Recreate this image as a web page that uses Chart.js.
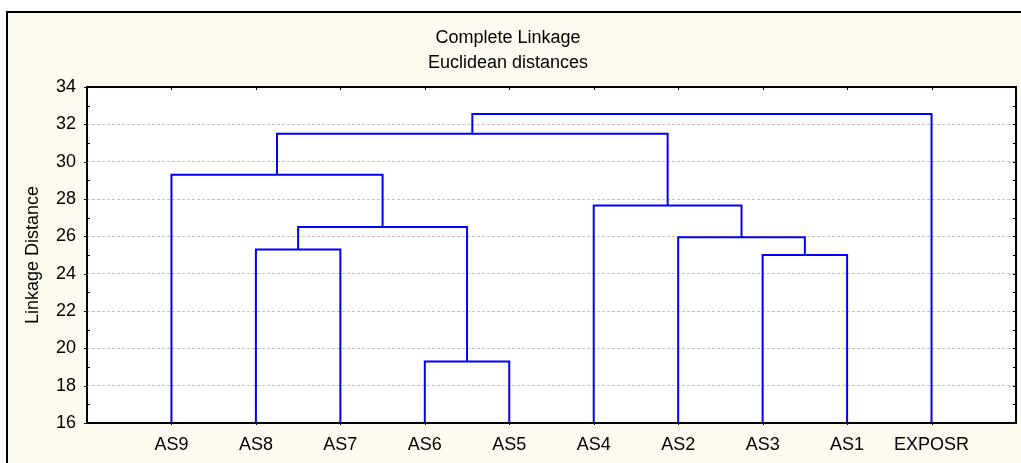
<!DOCTYPE html>
<html>
<head>
<meta charset="utf-8">
<title>Complete Linkage dendrogram</title>
<script src="https://cdn.jsdelivr.net/npm/chart.js@4/dist/chart.umd.min.js"></script>
<style>
  html, body { margin: 0; padding: 0; background: #ffffff; }
  #wrap { width: 1021px; height: 463px; position: relative; }
</style>
</head>
<body>
<div id="wrap"><canvas id="c" width="1021" height="463"></canvas></div>
<script>
// Leaves in dendrogram order (left to right)
const leafLabels = ['AS9', 'AS8', 'AS7', 'AS6', 'AS5', 'AS4', 'AS2', 'AS3', 'AS1', 'EXPOSR'];

// Merge i joins node mergeLeft[i] with node mergeRight[i] at mergeHeight[i].
// Nodes 0..9 are the leaves; node 10 + i is the cluster created by merge i.
const mergeLeft   = [3, 7, 1, 6, 12, 5, 0, 16, 17];
const mergeRight  = [4, 8, 2, 11, 10, 13, 14, 15, 9];
const mergeHeight = [19.3, 25.0, 25.3, 25.95, 26.5, 27.65, 29.3, 31.5, 32.55];

// Linkage distance axis
const yTickValues = [16, 18, 20, 22, 24, 26, 28, 30, 32, 34];
const yMin = 16, yMax = 34;

const FONT = "'Liberation Sans', Arial, Helvetica, sans-serif";
const FONT_SIZE = 18;
const CREAM = '#fefaf0';
const LINK_BLUE = '#0000ff';

// Node positions: leaves sit at 1..n on the x scale, clusters midway between children
const nodeX = leafLabels.map((_, i) => i + 1);
const nodeH = leafLabels.map(() => yMin);
mergeLeft.forEach((a, i) => {
  const b = mergeRight[i];
  nodeX.push((nodeX[a] + nodeX[b]) / 2);
  nodeH.push(mergeHeight[i]);
});

// One U-shaped link per merge
const datasets = mergeLeft.map((a, i) => {
  const b = mergeRight[i];
  const h = mergeHeight[i];
  return {
    data: [
      { x: nodeX[a], y: nodeH[a] },
      { x: nodeX[a], y: h },
      { x: nodeX[b], y: h },
      { x: nodeX[b], y: nodeH[b] }
    ],
    borderColor: LINK_BLUE,
    borderWidth: 2,
    pointRadius: 0,
    tension: 0,
    fill: false,
    borderJoinStyle: 'miter',
    borderCapStyle: 'butt'
  };
});

// Cream panel with its frame, white plot area behind the links
const panelBackground = {
  id: 'panelBackground',
  beforeDraw(chart) {
    const { ctx, width, height, chartArea } = chart;
    ctx.save();
    ctx.fillStyle = '#ffffff';
    ctx.fillRect(0, 0, width, height);
    ctx.fillStyle = CREAM;
    ctx.fillRect(7, 12, width - 7, height - 12);
    ctx.strokeStyle = '#000000';
    ctx.lineWidth = 2;
    ctx.beginPath();
    ctx.moveTo(7, height);
    ctx.lineTo(7, 12);
    ctx.lineTo(width, 12);
    ctx.stroke();
    ctx.fillStyle = '#ffffff';
    ctx.fillRect(chartArea.left, chartArea.top, chartArea.right - chartArea.left, chartArea.bottom - chartArea.top);
    ctx.restore();
  }
};

// Plot frame with inner/outer tick marks on all four sides
const plotFrame = {
  id: 'plotFrame',
  afterDraw(chart) {
    const { ctx, chartArea: ca, scales } = chart;
    const xs = scales.x, ys = scales.y;
    ctx.save();
    ctx.strokeStyle = '#000000';
    ctx.lineWidth = 1;
    ctx.beginPath();
    // left axis: major ticks outward, minor ticks inward
    for (let v = yMin; v <= yMax; v++) {
      const py = Math.round(ys.getPixelForValue(v)) + 0.5;
      if (v % 2 === 0) {
        ctx.moveTo(ca.left - 3, py); ctx.lineTo(ca.left, py);
      } else {
        ctx.moveTo(ca.left, py); ctx.lineTo(ca.left + 3, py);
      }
      // right axis ticks point inward
      ctx.moveTo(ca.right - 3, py); ctx.lineTo(ca.right, py);
    }
    // top and bottom ticks at every leaf
    leafLabels.forEach((_, i) => {
      const px = Math.round(xs.getPixelForValue(i + 1)) + 0.5;
      ctx.moveTo(px, ca.top); ctx.lineTo(px, ca.top + 3);
      ctx.moveTo(px, ca.bottom); ctx.lineTo(px, ca.bottom + 2);
    });
    ctx.stroke();
    ctx.lineWidth = 2;
    ctx.strokeRect(ca.left, ca.top, ca.right - ca.left, ca.bottom - ca.top);
    ctx.restore();
  }
};

new Chart(document.getElementById('c'), {
  type: 'line',
  data: { datasets },
  options: {
    responsive: false,
    animation: false,
    devicePixelRatio: 1,
    parsing: false,
    layout: { padding: { left: 0, right: 5, top: 0, bottom: 0 } },
    plugins: {
      legend: { display: false },
      tooltip: { enabled: false },
      title: {
        display: true,
        text: ['Complete Linkage', 'Euclidean distances'],
        color: '#000000',
        font: { family: FONT, size: FONT_SIZE, weight: 'normal', lineHeight: 25 / FONT_SIZE },
        padding: { top: 26, bottom: 11 }
      }
    },
    scales: {
      x: {
        type: 'linear',
        position: 'bottom',
        min: 0,
        max: leafLabels.length + 1,
        afterBuildTicks(scale) {
          scale.ticks = leafLabels.map((_, i) => ({ value: i + 1 }));
        },
        ticks: {
          autoSkip: false,
          maxRotation: 0,
          padding: 11,
          color: '#000000',
          font: { family: FONT, size: FONT_SIZE },
          callback: (v) => leafLabels[v - 1]
        },
        grid: { display: false, drawTicks: false },
        border: { display: false },
        afterFit(scale) { scale.height = 40; }
      },
      y: {
        type: 'linear',
        position: 'left',
        min: yMin,
        max: yMax,
        afterBuildTicks(scale) {
          scale.ticks = yTickValues.map(v => ({ value: v }));
        },
        ticks: {
          padding: 11,
          color: '#000000',
          font: { family: FONT, size: FONT_SIZE }
        },
        grid: {
          drawTicks: false,
          lineWidth: 1,
          color: (c) => (c.tick && c.tick.value > yMin && c.tick.value < yMax) ? '#c4c4c4' : 'rgba(0,0,0,0)'
        },
        border: { display: false, dash: [3, 2] },
        title: {
          display: true,
          text: 'Linkage Distance',
          color: '#000000',
          font: { family: FONT, size: FONT_SIZE },
          padding: { top: 22, bottom: 0 }
        },
        afterFit(scale) { scale.width = 87; }
      }
    }
  },
  plugins: [panelBackground, plotFrame]
});
</script>
</body>
</html>
